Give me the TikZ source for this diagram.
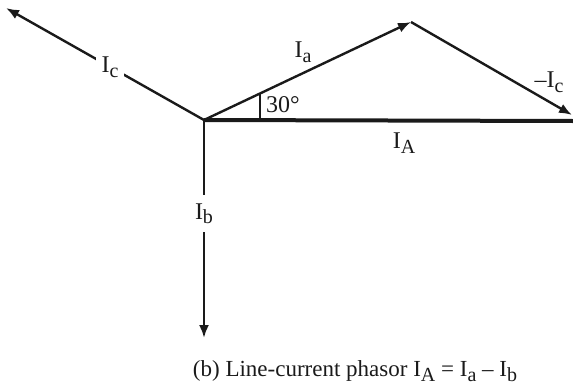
\documentclass[tikz,border=0pt]{standalone}
\usepackage{fontspec}
\setmainfont{Liberation Serif}
\usepackage{xcolor}
\usepackage{tikz}
\usetikzlibrary{arrows.meta,calc}
\definecolor{ink}{HTML}{1A1A1A}
\newcommand{\cur}[1]{I\raisebox{-0.45ex}{\fontsize{10}{12}\selectfont #1}}
\tikzset{
  >={Latex[length=6.5pt,width=5pt]},
  phasor/.style={->,line width=1.2pt,draw=ink},
  result/.style={line width=2pt,draw=ink},
  tick/.style={line width=0.9pt,draw=ink},
  lbl/.style={font=\fontsize{12}{14}\selectfont,text=ink,inner sep=1pt},
  gaplbl/.style={lbl,fill=white,inner xsep=3pt,inner ysep=4pt}
}
\begin{document}
\begin{tikzpicture}[x=0.5pt,y=-0.5pt]
  \useasboundingbox (0,0) rectangle (573,391);
  % phasor end points
  \coordinate (O) at (204,120);
  \coordinate (tipC) at (6,8);
  \coordinate (tipA) at (411,22);
  \coordinate (tipMC) at (572,115);
  \coordinate (endA) at (573,121);
  \coordinate (tipB) at (204,338);
  \draw[result] (O) -- (endA);
  \draw[phasor] (O) -- node[gaplbl,pos=0.475] (lc) {\cur{c}} (tipC);
  \draw[phasor] (O) -- node[gaplbl,pos=0.43] (lb) {\cur{b}} (tipB);
  \draw[phasor] (O) -- (tipA);
  \draw[phasor] (tipA) -- (tipMC);
  % 30 degree marker
  \coordinate (m) at ($(O)!0.272!(tipA)$);
  \draw[tick] (m) -- (m |- O);
  \node[lbl] (ang) at (283,105) {30°};
  \node[lbl] (la) at (303,52) {\cur{a}};
  \node[lbl] (lmc) at (549,82) {–\cur{c}};
  \node[lbl] (lA) at (404,143) {\cur{A}};
  \node[lbl,font=\fontsize{11.5}{14}\selectfont] (cap) at (355,371) {(b) Line-current phasor \cur{A} = \cur{a} – \cur{b}};
\end{tikzpicture}
\end{document}
